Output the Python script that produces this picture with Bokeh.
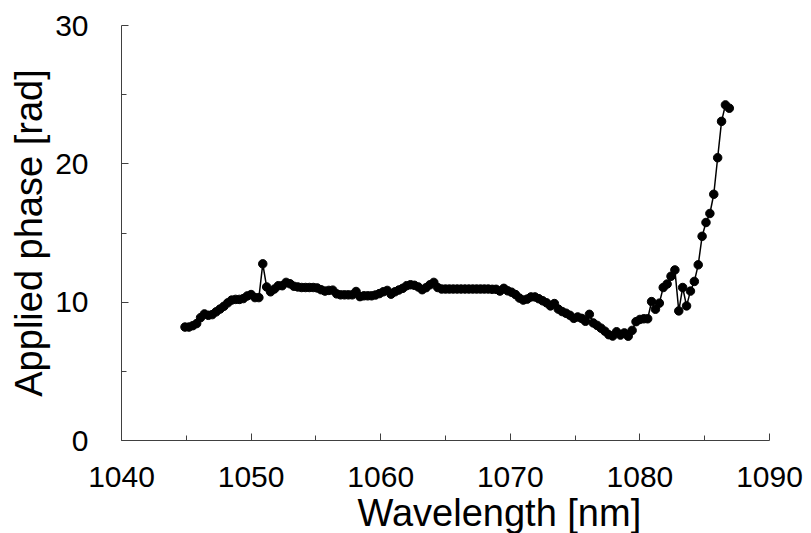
from bokeh.plotting import figure
from bokeh.models import Range1d, FixedTicker, Title
from bokeh.embed import file_html
from bokeh.resources import INLINE

wavelength = [
    1044.9, 1045.2, 1045.5, 1045.8, 1046.1, 1046.4, 1046.7, 1047.0, 1047.3, 1047.6,
    1047.9, 1048.2, 1048.5, 1048.8, 1049.1, 1049.4, 1049.7, 1050.0, 1050.3, 1050.6,
    1050.9, 1051.2, 1051.5, 1051.8, 1052.1, 1052.4, 1052.7, 1053.0, 1053.3, 1053.6,
    1053.9, 1054.2, 1054.5, 1054.8, 1055.1, 1055.4, 1055.7, 1056.0, 1056.3, 1056.6,
    1056.9, 1057.2, 1057.5, 1057.8, 1058.1, 1058.4, 1058.7, 1059.0, 1059.3, 1059.6,
    1059.9, 1060.2, 1060.5, 1060.8, 1061.1, 1061.4, 1061.7, 1062.0, 1062.3, 1062.6,
    1062.9, 1063.2, 1063.5, 1063.8, 1064.1, 1064.4, 1064.7, 1065.0, 1065.3, 1065.6,
    1065.9, 1066.2, 1066.5, 1066.8, 1067.1, 1067.4, 1067.7, 1068.0, 1068.3, 1068.6,
    1068.9, 1069.2, 1069.5, 1069.8, 1070.1, 1070.4, 1070.7, 1071.0, 1071.3, 1071.6,
    1071.9, 1072.2, 1072.5, 1072.8, 1073.1, 1073.4, 1073.7, 1074.0, 1074.3, 1074.6,
    1074.9, 1075.2, 1075.5, 1075.8, 1076.1, 1076.4, 1076.7, 1077.0, 1077.3, 1077.6,
    1077.9, 1078.2, 1078.5, 1078.8, 1079.1, 1079.4, 1079.7, 1080.0, 1080.3, 1080.6,
    1080.9, 1081.2, 1081.5, 1081.8, 1082.1, 1082.4, 1082.7, 1083.0, 1083.3, 1083.6,
    1083.9, 1084.2, 1084.5, 1084.8, 1085.1, 1085.4, 1085.7, 1086.0, 1086.3, 1086.6,
    1086.9,
]

phase = [
    8.20, 8.20, 8.30, 8.45, 8.88, 9.15, 9.05, 9.10, 9.30, 9.50,
    9.70, 9.95, 10.15, 10.20, 10.20, 10.26, 10.45, 10.55, 10.33, 10.33,
    12.77, 11.10, 10.75, 10.95, 11.19, 11.19, 11.43, 11.33, 11.15, 11.10,
    11.06, 11.06, 11.06, 11.06, 11.03, 10.90, 10.80, 10.85, 10.87, 10.60,
    10.53, 10.53, 10.53, 10.53, 10.77, 10.40, 10.46, 10.46, 10.46, 10.52,
    10.62, 10.75, 10.85, 10.58, 10.75, 10.88, 11.00, 11.19, 11.26, 11.22,
    11.10, 10.90, 11.05, 11.26, 11.43, 11.06, 10.95, 10.95, 10.95, 10.95,
    10.95, 10.95, 10.95, 10.95, 10.95, 10.95, 10.95, 10.95, 10.95, 10.93,
    10.93, 10.80, 11.00, 10.82, 10.72, 10.55, 10.30, 10.15, 10.22, 10.38,
    10.38, 10.25, 10.10, 9.95, 9.73, 9.90, 9.50, 9.32, 9.20, 9.05,
    8.83, 8.93, 8.83, 8.62, 9.12, 8.50, 8.32, 8.12, 7.90, 7.65,
    7.55, 7.86, 7.62, 7.78, 7.54, 7.96, 8.59, 8.75, 8.80, 8.80,
    10.04, 9.49, 9.93, 11.06, 11.31, 11.87, 12.33, 9.37, 11.06, 9.73,
    10.80, 11.50, 12.70, 14.76, 15.76, 16.41, 17.80, 20.44, 23.07, 24.26,
    24.02,
]

x_ticks = [1040, 1050, 1060, 1070, 1080, 1090]
x_minor_ticks = [1045, 1055, 1065, 1075, 1085]
y_ticks = [0, 10, 20, 30]
y_minor_ticks = [5, 15, 25]
x_title = "Wavelength [nm]"
y_title = "Applied phase [rad]"

FONT = "Liberation Sans"

p = figure(
    width=811, height=533,
    x_range=Range1d(1040, 1090), y_range=Range1d(0, 30),
    output_backend="svg", toolbar_location=None,
    min_border_left=121, min_border_right=42,
    min_border_top=25, min_border_bottom=93,
)
p.outline_line_color = None
p.grid.visible = False
p.background_fill_color = "white"
p.border_fill_color = "white"

p.line(wavelength, phase, line_color="black", line_width=1.5)
p.scatter(wavelength, phase, size=8.5, fill_color="black", line_color="black")

for ax in (p.xaxis[0], p.yaxis[0]):
    ax.axis_line_color = "#404040"
    ax.axis_line_width = 1
    ax.major_tick_line_color = "#404040"
    ax.minor_tick_line_color = "#404040"
    ax.major_tick_in = 7
    ax.major_tick_out = 0
    ax.minor_tick_in = 5
    ax.minor_tick_out = 0
    ax.major_label_text_font = FONT
    ax.major_label_text_font_size = "30px"
    ax.major_label_text_color = "black"
    ax.axis_label_text_font = FONT
    ax.axis_label_text_font_size = "38px"
    ax.axis_label_text_font_style = "normal"
    ax.axis_label_text_color = "black"

p.xaxis.ticker = FixedTicker(ticks=x_ticks, minor_ticks=x_minor_ticks)
p.yaxis.ticker = FixedTicker(ticks=y_ticks, minor_ticks=y_minor_ticks)
p.xaxis.major_label_standoff = 26
p.yaxis.major_label_standoff = 33
p.yaxis.axis_label = y_title
p.yaxis.axis_label_standoff = 2

p.add_layout(Title(
    text=x_title, align="left", offset=236, standoff=0,
    text_font=FONT, text_font_size="38px", text_font_style="normal",
    text_color="black",
), "below")

open("out.html", "w").write(file_html(p, INLINE))
